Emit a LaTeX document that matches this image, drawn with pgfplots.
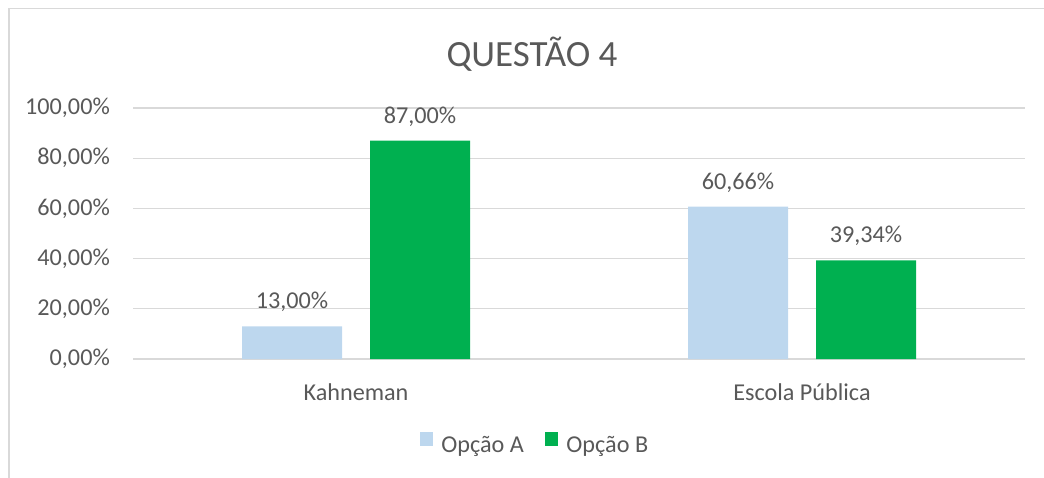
\documentclass[border=0pt]{standalone}
\usepackage{fontspec}
\setmainfont{Carlito}
\usepackage{pgfplots}
\pgfplotsset{compat=1.18}
\definecolor{txt}{HTML}{595959}
\definecolor{grd}{HTML}{D9D9D9}
\definecolor{optA}{HTML}{BDD7EE}
\definecolor{optB}{HTML}{00B050}
\begin{document}
\begin{tikzpicture}[x=1pt,y=1pt]
\path[use as bounding box] (0,0) rectangle (1044,-478);
\begin{scope}
\clip (0,0) rectangle (1044,-478);
\draw[grd, line width=1.2pt] (9,-600) -- (9,-8.5) -- (1200,-8.5);
\end{scope}
\node[anchor=base, text=txt, font=\fontsize{37}{41}\selectfont, inner sep=0pt] at (532,-66.5) {QUESTÃO 4};
\begin{axis}[
  at={(133pt,-359pt)}, anchor=south west,
  scale only axis, width=892pt, height=251pt,
  ybar=28pt, bar width=100pt,
  xmin=-0.5, xmax=1.5, ymin=0, ymax=100,
  xtick={0,1}, xticklabels={Kahneman, Escola Pública},
  ytick={0,20,40,60,80,100},
  yticklabels={{0,00\%},{20,00\%},{40,00\%},{60,00\%},{80,00\%},{100,00\%}},
  major tick length=0pt,
  axis y line*=left,
  axis x line*=bottom,
  y axis line style={draw=none},
  x axis line style={draw=grd, line width=1.2pt, -},
  ymajorgrids, grid style={draw=grd, line width=1.2pt},
  tick label style={text=txt, font=\fontsize{24.2}{27}\selectfont, inner sep=0pt},
  yticklabel style={anchor=east, xshift=-23pt},
  xticklabel style={anchor=base, yshift=-41pt},
  point meta=explicit symbolic,
  nodes near coords,
  every node near coord/.append style={anchor=base, yshift=17.5pt, inner sep=0pt, text=txt, font=\fontsize{24.2}{27}\selectfont},
  legend columns=2,
  legend style={at={(0.4507,-0.3386)}, anchor=center, draw=none, fill=none,
    font=\fontsize{24.2}{27}\selectfont, text=txt,
    /tikz/every odd column/.append style={column sep=6pt},
    /tikz/every even column/.append style={column sep=19pt},
    legend cell align=left},
  legend image code/.code={\fill[#1,draw=none] (0pt,-1pt) rectangle (13.5pt,12.5pt);},
]
\addplot[fill=optA, draw=none] coordinates {(0,13.00) [13,00\%] (1,60.66) [60,66\%]};
\addplot[fill=optB, draw=none] coordinates {(0,87.00) [87,00\%] (1,39.34) [39,34\%]};
\legend{Opção A, Opção B}
\end{axis}
\end{tikzpicture}
\end{document}
